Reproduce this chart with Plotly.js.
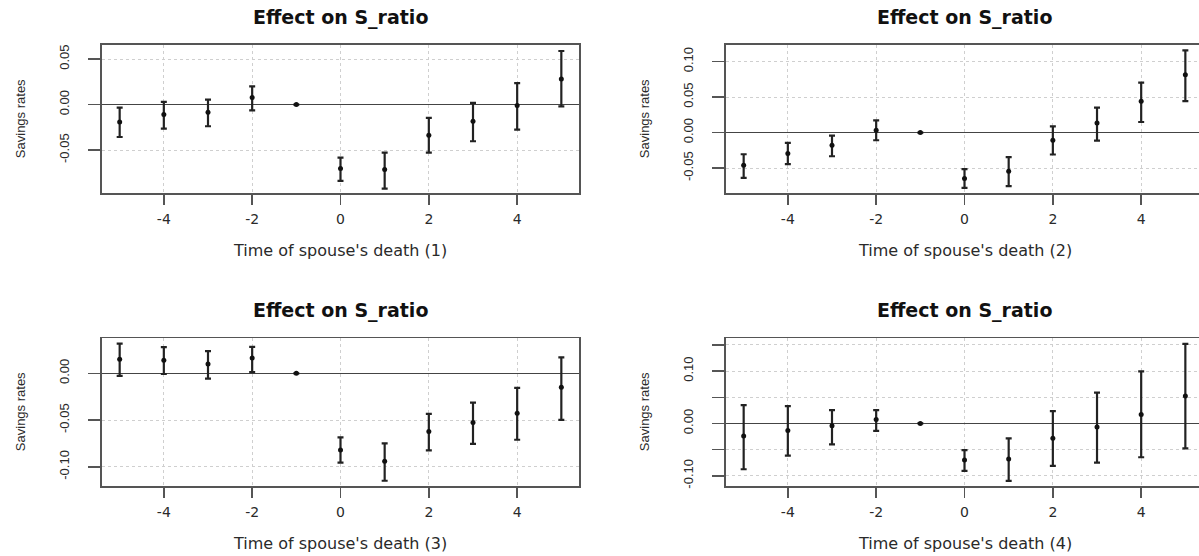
<!DOCTYPE html>
<html>
<head>
<meta charset="utf-8">
<script src="https://cdn.plot.ly/plotly-3.0.1.min.js"></script>
<style>html,body{margin:0;padding:0;background:#fff;overflow:hidden}</style>
</head>
<body>
<div id="chart" style="width:1199px;height:556px"></div>
<script>
// ---- data ----
const periods = [-5, -4, -3, -2, -1, 0, 1, 2, 3, 4, 5];
const xTickVals = [-4, -2, 0, 2, 4];
const xTickText = ["-4", "-2", "0", "2", "4"];
const panelTitle = "Effect on S_ratio";
const yAxisLabel = "Savings rates";

const est1   = [-0.019, -0.011, -0.0085, 0.0077, 0, -0.0703, -0.0714, -0.0337, -0.0183, -0.0011, 0.0281];
const upper1 = [-0.0033, 0.0029, 0.0055, 0.0201, 0, -0.0582, -0.0527, -0.0147, 0.0018, 0.0237, 0.0589];
const lower1 = [-0.0356, -0.0264, -0.0238, -0.0063, 0, -0.0839, -0.0923, -0.0527, -0.0403, -0.0275, -0.0019];

const est2   = [-0.0459, -0.0295, -0.0178, 0.0032, 0, -0.0646, -0.0544, -0.0108, 0.0135, 0.0440, 0.0815];
const upper2 = [-0.0305, -0.0146, -0.0042, 0.0173, 0, -0.0515, -0.0347, 0.0088, 0.0351, 0.0702, 0.1156];
const lower2 = [-0.0638, -0.0445, -0.0333, -0.0108, 0, -0.0778, -0.0754, -0.0309, -0.0112, 0.0149, 0.0444];

const est3   = [0.0152, 0.0141, 0.0099, 0.0163, 0, -0.0819, -0.0940, -0.0621, -0.0525, -0.0426, -0.0149];
const upper3 = [0.0319, 0.0280, 0.0237, 0.0283, 0, -0.0685, -0.0749, -0.0433, -0.0313, -0.0156, 0.0170];
const lower3 = [-0.0026, -0.0007, -0.0057, 0.0014, 0, -0.0954, -0.1149, -0.0823, -0.0755, -0.0710, -0.0497];

const est4   = [-0.0241, -0.0133, -0.0046, 0.0076, 0, -0.0698, -0.0679, -0.0285, -0.0070, 0.0171, 0.0525];
const upper4 = [0.0348, 0.0329, 0.0253, 0.0253, 0, -0.0508, -0.0285, 0.0234, 0.0589, 0.0994, 0.1521];
const lower4 = [-0.0875, -0.0616, -0.0399, -0.0141, 0, -0.0907, -0.1097, -0.0812, -0.0749, -0.0646, -0.0475];

const yTicks1 = [-0.05, 0, 0.05];        const yText1 = ["-0.05", "0.00", "0.05"];
const yTicks2 = [-0.05, 0, 0.05, 0.10];  const yText2 = ["-0.05", "0.00", "0.05", "0.10"];
const yTicks3 = [-0.10, -0.05, 0];       const yText3 = ["-0.10", "-0.05", "0.00"];
const yTicks4 = [-0.10, -0.05, 0, 0.05, 0.10, 0.15];
const yText4  = ["-0.10", "", "0.00", "", "0.10", ""];

const xTitles = ["Time of spouse's death (1)", "Time of spouse's death (2)",
                 "Time of spouse's death (3)", "Time of spouse's death (4)"];

// ---- layout geometry (pixels) ----
const W = 1199, H = 556;
const panels = [
  {est: est1, up: upper1, lo: lower1, yt: yTicks1, ytx: yText1, yr: [-0.0975, 0.0655], x0: 102, x1: 579,  y0: 45,    y1: 193.3, xr: [-5.4, 5.4]},
  {est: est2, up: upper2, lo: lower2, yt: yTicks2, ytx: yText2, yr: [-0.0855, 0.1233], x0: 726, x1: 1199, y0: 45,    y1: 193.3, xr: [-5.4, 5.309]},
  {est: est3, up: upper3, lo: lower3, yt: yTicks3, ytx: yText3, yr: [-0.1205, 0.0375], x0: 102, x1: 579,  y0: 338.3, y1: 486,   xr: [-5.4, 5.4]},
  {est: est4, up: upper4, lo: lower4, yt: yTicks4, ytx: yText4, yr: [-0.1195, 0.1626], x0: 726, x1: 1199, y0: 338.3, y1: 486,   xr: [-5.4, 5.309]}
];

const traces = [];
const layout = {
  width: W, height: H,
  margin: {l: 0, r: 0, t: 0, b: 0},
  paper_bgcolor: "#fff", plot_bgcolor: "#fff",
  showlegend: false,
  annotations: []
};

panels.forEach((p, i) => {
  const n = i + 1;
  const xa = n === 1 ? "x" : "x" + n;
  const ya = n === 1 ? "y" : "y" + n;
  traces.push({
    type: "scatter", mode: "markers",
    x: periods, y: p.est,
    xaxis: xa, yaxis: ya,
    marker: {color: "#111", size: 5},
    error_y: {
      type: "data", symmetric: false,
      array: p.up.map((u, k) => u - p.est[k]),
      arrayminus: p.lo.map((l, k) => p.est[k] - l),
      color: "#222", thickness: 2.2, width: 3
    },
    hoverinfo: "x+y"
  });
  const rightCut = p.x1 >= W;
  layout["xaxis" + (n === 1 ? "" : n)] = {
    domain: [p.x0 / W, p.x1 / W],
    anchor: ya,
    range: p.xr,
    tickmode: "array", tickvals: xTickVals, ticktext: xTickText,
    ticks: "outside", ticklen: 10, tickwidth: 1.5, tickcolor: "#555",
    ticklabelstandoff: 2,
    tickfont: {family: "DejaVu Sans, Arial, sans-serif", size: 14, color: "#2a2a2a"},
    showgrid: true, gridcolor: "#cfcfcf", griddash: "dot", gridwidth: 1,
    zeroline: false,
    showline: true, linecolor: "#555", linewidth: 1.8, mirror: true,
    fixedrange: true
  };
  layout["yaxis" + (n === 1 ? "" : n)] = {
    domain: [1 - p.y1 / H, 1 - p.y0 / H],
    anchor: xa,
    range: p.yr,
    tickmode: "array", tickvals: p.yt, ticktext: p.ytx,
    tickangle: -90,
    ticks: "outside", ticklen: 12, tickwidth: 1.5, tickcolor: "#555",
    ticklabelstandoff: 14,
    tickfont: {family: "Liberation Sans, Arial, sans-serif", size: 13, color: "#2a2a2a"},
    showgrid: true, gridcolor: "#cfcfcf", griddash: "dot", gridwidth: 1,
    zeroline: true, zerolinecolor: "#444", zerolinewidth: 1.5,
    showline: true, linecolor: "#555", linewidth: 1.8, mirror: !rightCut,
    fixedrange: true
  };
  const cx = ((p.x0 + (rightCut ? 1203 : p.x1)) / 2) / W;
  // panel title
  layout.annotations.push({
    xref: "paper", yref: "paper", x: cx, y: 1 - (p.y0 - 28) / H,
    text: "<b>" + panelTitle + "</b>", showarrow: false,
    xanchor: "center", yanchor: "middle",
    font: {family: "DejaVu Sans, Arial, sans-serif", size: 19, color: "#111"}
  });
  // x axis title
  layout.annotations.push({
    xref: "paper", yref: "paper", x: cx, y: 1 - (p.y1 + 57) / H,
    text: xTitles[i], showarrow: false,
    xanchor: "center", yanchor: "middle",
    font: {family: "DejaVu Sans, Arial, sans-serif", size: 16, color: "#2a2a2a"}
  });
  // y axis title
  layout.annotations.push({
    xref: "paper", yref: "paper", x: (p.x0 - 82) / W, y: 1 - ((p.y0 + p.y1) / 2) / H,
    text: yAxisLabel, showarrow: false, textangle: -90,
    xanchor: "center", yanchor: "middle",
    font: {family: "Liberation Sans, Arial, sans-serif", size: 13, color: "#2a2a2a"}
  });
});

Plotly.newPlot("chart", traces, layout, {displayModeBar: false, staticPlot: true});
</script>
</body>
</html>
